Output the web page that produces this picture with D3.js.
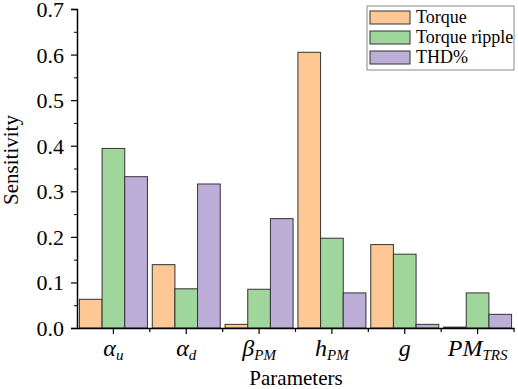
<!DOCTYPE html>
<html>
<head>
  <meta charset="utf-8" />
  <title>Sensitivity</title>
  <script src="https://cdn.jsdelivr.net/npm/d3@7"></script>
  <style type="text/css">
    html, body { margin: 0; background: #fff; }
    svg text { font-family: "Liberation Serif", "Times New Roman", serif; fill: #000; }
  </style>
</head>
<body>
<div id="container"></div>
<script>
// data
var params = ["au", "ad", "bPM", "hPM", "g", "PMTRS"];
var seriesNames = ["Torque", "Torque ripple", "THD%"];
var torque = [0.063, 0.139, 0.008, 0.605, 0.183, 0.002];
var ripple = [0.394, 0.086, 0.085, 0.197, 0.162, 0.077];
var thd    = [0.332, 0.316, 0.240, 0.077, 0.008, 0.030];
var yTicks = [0, 0.1, 0.2, 0.3, 0.4, 0.5, 0.6, 0.7];
// label pieces: [main, subscript]
var labels = [["α", "u"], ["α", "d"], ["β", "PM"], ["h", "PM"], ["g", ""], ["PM", "TRS"]];
var colors = ["#fdc894", "#9fd69b", "#bdaed8"];

var W = 518, H = 389;
var mLeft = 77, mRight = 514, mTop = 9, mBottom = 328;

var svg = d3.select("#container").append("svg")
    .attr("width", W).attr("height", H);

var x = d3.scaleBand().domain(params).range([mLeft, mRight]).paddingInner(0).paddingOuter(0);
var xs = d3.scaleBand().domain(seriesNames).range([0, x.bandwidth()]).paddingOuter(0.107).paddingInner(0);
var y = d3.scaleLinear().domain([0, 0.7]).range([mBottom, mTop]);

var rows = params.map(function(p, i) {
  return { p: p, vals: [torque[i], ripple[i], thd[i]] };
});

var groups = svg.append("g").selectAll("g")
  .data(rows).enter().append("g")
    .attr("transform", function(d) { return "translate(" + x(d.p) + ",0)"; });

groups.selectAll("rect")
  .data(function(d) { return d.vals.map(function(v, k) { return { s: seriesNames[k], v: v, k: k }; }); })
  .enter().append("rect")
    .attr("x", function(d) { return xs(d.s); })
    .attr("y", function(d) { return y(d.v); })
    .attr("width", xs.bandwidth())
    .attr("height", function(d) { return mBottom - y(d.v); })
    .attr("fill", function(d) { return colors[d.k]; })
    .attr("stroke", "#333")
    .attr("stroke-width", 1);

// y axis
var yAxis = d3.axisLeft(y).tickValues(yTicks).tickFormat(d3.format(".1f")).tickSize(6).tickPadding(7);
var ya = svg.append("g").attr("transform", "translate(" + mLeft + ",0)").call(yAxis);
ya.select(".domain").attr("stroke-width", 1.5);
ya.selectAll("text").style("font-size", "22px").attr("dy", "0.34em");
ya.selectAll(".tick line").attr("stroke-width", 1.2);
svg.append("g").attr("transform", "translate(" + mLeft + ",0)")
  .call(d3.axisLeft(y).tickValues(d3.range(0.05, 0.7, 0.1)).tickSize(3).tickFormat(""))
  .call(function(g) { g.select(".domain").remove(); });

// x axis
var xa = svg.append("g").attr("transform", "translate(0," + mBottom + ")")
  .call(d3.axisBottom(x).tickSize(6).tickSizeOuter(0).tickFormat(""));
xa.select(".domain").attr("stroke-width", 1.5);
xa.selectAll(".tick line").attr("stroke-width", 1.2);
var bounds = params.slice(1).map(function(p) { return x(p); }).concat([mRight]);
svg.append("g").selectAll("line").data(bounds).enter().append("line")
  .attr("x1", function(d) { return d; }).attr("x2", function(d) { return d; })
  .attr("y1", mBottom).attr("y2", mBottom + 4)
  .attr("stroke", "#000").attr("stroke-width", 1.2);

var xl = svg.append("g").selectAll("text").data(params).enter().append("text")
  .attr("x", function(d) { return x(d) + x.bandwidth() / 2; })
  .attr("y", 356)
  .attr("text-anchor", "middle")
  .style("font-style", "italic")
  .style("font-size", "24px");
xl.append("tspan").text(function(d, i) { return labels[i][0]; });
xl.append("tspan").attr("dy", 4).style("font-size", "15px")
  .text(function(d, i) { return labels[i][1]; });

// axis titles
svg.append("text").attr("x", 296).attr("y", 385).attr("text-anchor", "middle")
  .style("font-size", "21px").text("Parameters");
svg.append("text").attr("transform", "translate(18,160) rotate(-90)").attr("text-anchor", "middle")
  .style("font-size", "21px").text("Sensitivity");

// legend
var lg = svg.append("g");
lg.append("rect").attr("x", 367).attr("y", 6).attr("width", 147).attr("height", 64)
  .attr("fill", "#fff").attr("stroke", "#888").attr("stroke-width", 1);
var items = lg.selectAll("g.item").data(seriesNames).enter().append("g")
  .attr("transform", function(d, i) { return "translate(370," + (11 + i * 20) + ")"; });
items.append("rect").attr("width", 40).attr("height", 13)
  .attr("fill", function(d, i) { return colors[i]; })
  .attr("stroke", "#333").attr("stroke-width", 1);
items.append("text").attr("x", 46).attr("y", 12).style("font-size", "18px")
  .text(function(d) { return d; });
</script>
</body>
</html>
